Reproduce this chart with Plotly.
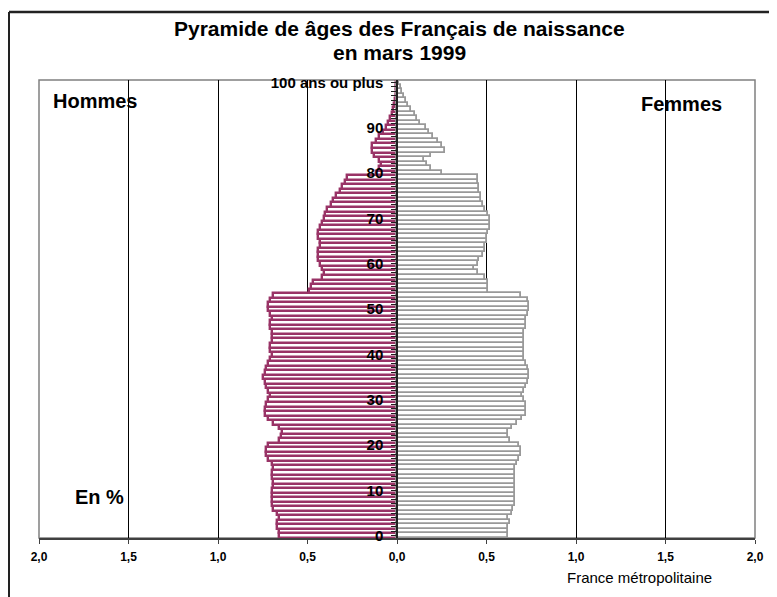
import plotly.graph_objects as go

ages = list(range(101))

hommes = [0.66, 0.66, 0.67, 0.67, 0.66, 0.67, 0.69, 0.70, 0.70, 0.70,
          0.70, 0.69, 0.69, 0.70, 0.70, 0.69, 0.70, 0.72, 0.73, 0.73,
          0.72, 0.66, 0.65, 0.64, 0.66, 0.69, 0.72, 0.74, 0.74, 0.73,
          0.72, 0.71, 0.72, 0.73, 0.74, 0.75, 0.74, 0.73, 0.72, 0.71,
          0.70, 0.71, 0.71, 0.70, 0.70, 0.70, 0.71, 0.71, 0.70, 0.71,
          0.72, 0.72, 0.71, 0.69, 0.49, 0.48, 0.47, 0.42, 0.41, 0.42,
          0.43, 0.44, 0.44, 0.44, 0.43, 0.43, 0.44, 0.44, 0.43, 0.42,
          0.41, 0.40, 0.39, 0.37, 0.36, 0.34, 0.32, 0.31, 0.29, 0.28,
          0.12, 0.10, 0.09, 0.10, 0.13, 0.14, 0.14, 0.12, 0.10, 0.08,
          0.06, 0.05, 0.04, 0.03, 0.02, 0.015, 0.01, 0.007, 0.005, 0.003,
          0.003]

femmes = [0.62, 0.62, 0.62, 0.63, 0.62, 0.64, 0.65, 0.66, 0.66, 0.66,
          0.66, 0.66, 0.66, 0.66, 0.66, 0.66, 0.67, 0.68, 0.69, 0.69,
          0.68, 0.63, 0.62, 0.62, 0.64, 0.67, 0.70, 0.72, 0.72, 0.72,
          0.71, 0.70, 0.71, 0.72, 0.73, 0.74, 0.74, 0.73, 0.72, 0.71,
          0.71, 0.71, 0.71, 0.71, 0.71, 0.71, 0.72, 0.72, 0.72, 0.73,
          0.74, 0.74, 0.73, 0.69, 0.51, 0.51, 0.51, 0.49, 0.45, 0.43,
          0.45, 0.46, 0.48, 0.49, 0.49, 0.50, 0.50, 0.51, 0.52, 0.52,
          0.52, 0.51, 0.49, 0.48, 0.47, 0.47, 0.46, 0.46, 0.45, 0.45,
          0.25, 0.19, 0.17, 0.15, 0.19, 0.27, 0.25, 0.23, 0.20, 0.18,
          0.16, 0.13, 0.11, 0.10, 0.08, 0.06, 0.05, 0.04, 0.03, 0.02,
          0.013]

x_tickvals = [-2.0, -1.5, -1.0, -0.5, 0.0, 0.5, 1.0, 1.5, 2.0]
x_ticktext = ["2,0", "1,5", "1,0", "0,5", "0,0", "0,5", "1,0", "1,5", "2,0"]

y_ticktext = []
for a in ages:
    if a == 100:
        y_ticktext.append("100 ans ou plus")
    elif a % 10 == 0:
        y_ticktext.append(str(a))
    else:
        y_ticktext.append("")

FONT = "Liberation Sans, Arial, sans-serif"
MAGENTA = "#993366"
GREY = "#999999"

fig = go.Figure()
fig.add_trace(go.Bar(
    y=ages, x=[-v for v in hommes], orientation="h", name="Hommes",
    marker=dict(color="white", line=dict(color=MAGENTA, width=2.4)),
    showlegend=False,
))
fig.add_trace(go.Bar(
    y=ages, x=femmes, orientation="h", name="Femmes",
    marker=dict(color="white", line=dict(color=GREY, width=1.8)),
    showlegend=False,
))


def note(text, x, y, size, weight="bold"):
    return dict(text=text, x=x, y=y, xref="paper", yref="paper",
                xanchor="center", yanchor="middle", showarrow=False,
                font=dict(size=size, weight=weight))


fig.update_layout(
    width=777, height=597,
    margin=dict(l=31, r=30, t=72, b=67),
    paper_bgcolor="white", plot_bgcolor="white",
    barmode="overlay", bargap=0,
    font=dict(family=FONT, color="black"),
    xaxis=dict(
        range=[-2, 2], tickvals=x_tickvals, ticktext=x_ticktext,
        tickfont=dict(family=FONT, size=12, weight="bold"),
        showgrid=True, gridcolor="black", gridwidth=1,
        zeroline=False, showline=True, linecolor="#404040", linewidth=1.5,
        ticks="outside", ticklen=4, tickcolor="#404040",
        ticklabelstandoff=3,
        fixedrange=True,
    ),
    yaxis=dict(
        range=[-0.5, 100.5], tickvals=ages, ticktext=y_ticktext,
        tickfont=dict(family=FONT, size=15, weight="bold"),
        anchor="free", position=0.5,
        showgrid=False, zeroline=False,
        showline=True, linecolor="#202020", linewidth=1.5,
        ticks="outside", ticklen=5, tickcolor="#202020",
        ticklabelstandoff=5,
        fixedrange=True,
    ),
    shapes=[
        dict(type="rect", xref="paper", yref="paper", x0=0, x1=1, y0=0, y1=1,
             line=dict(color="#808080", width=1.5), layer="below"),
        dict(type="line", xref="paper", yref="paper", x0=-0.0419, x1=1.1,
             y0=1.1485, y1=1.1485, line=dict(color="#222222", width=2.5)),
        dict(type="line", xref="paper", yref="paper", x0=-0.0419, x1=-0.0419,
             y0=-0.2, y1=1.1485, line=dict(color="#222222", width=2)),
    ],
    annotations=[
        note("Pyramide de âges des Français de naissance", 0.504, 1.1135, 21),
        note("en mars 1999", 0.504, 1.061, 21),
        note("Hommes", 0.078, 0.954, 20),
        note("Femmes", 0.897, 0.948, 20),
        note("En %", 0.085, 0.0895, 20),
        note("France métropolitaine", 0.839, -0.087, 15, "normal"),
    ],
)

fig.write_html("out.html")
